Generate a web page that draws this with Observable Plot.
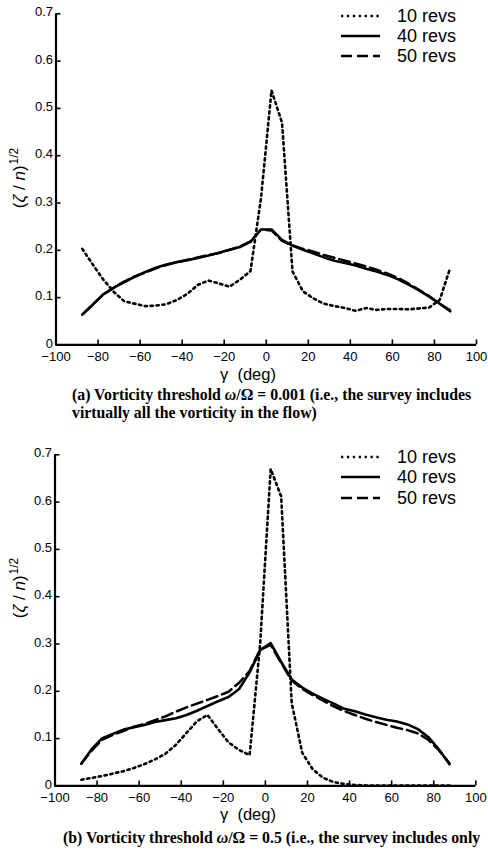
<!DOCTYPE html>
<html>
<head>
<meta charset="utf-8">
<script src="https://cdn.jsdelivr.net/npm/d3@7"></script>
<script src="https://cdn.jsdelivr.net/npm/@observablehq/plot@0.6"></script>
<style>
  body { margin: 0; background: #fff; }
  #page { position: relative; width: 488px; height: 850px; overflow: hidden;
          font-family: "Liberation Sans", Arial, sans-serif; color: #000; }
  .panel { position: absolute; left: 0; }
  .ylab { position: absolute; font-size: 17px; white-space: nowrap;
          transform: translate(-50%, -50%) rotate(-90deg); }
  .ylab sup { font-size: 12px; vertical-align: 7px; margin-left: 1px; }
  .xlab { position: absolute; font-size: 16.5px; white-space: nowrap; transform: translateY(-50%); }
  .legend { position: absolute; left: 341px; }
  .legend .row { position: absolute; left: 0; height: 20px; white-space: nowrap; }
  .legend svg { position: absolute; left: 0; top: 0; }
  .legend span { position: absolute; left: 56px; top: 0; line-height: 20px; font-size: 18px; }
  .cap { position: absolute; white-space: nowrap; font-family: "Liberation Serif", "Times New Roman", serif;
         font-weight: bold; font-size: 15.8px; line-height: 18px; transform: translateY(-50%); }
</style>
</head>
<body>
<div id="page"></div>
<script>
// Angular position γ (deg), bin centres every 5°
const gamma = [-87.5, -82.5, -77.5, -72.5, -67.5, -62.5, -57.5, -52.5, -47.5, -42.5,
               -37.5, -32.5, -27.5, -22.5, -17.5, -12.5, -7.5, -2.5, 2.5, 7.5,
               12.5, 17.5, 22.5, 27.5, 32.5, 37.5, 42.5, 47.5, 52.5, 57.5,
               62.5, 67.5, 72.5, 77.5, 82.5, 87.5];

// (a) threshold ω/Ω = 0.001
const a10 = [0.203, 0.170, 0.138, 0.112, 0.092, 0.087, 0.082, 0.083, 0.086, 0.095,
             0.108, 0.127, 0.136, 0.130, 0.123, 0.138, 0.156, 0.310, 0.538, 0.470,
             0.155, 0.113, 0.098, 0.087, 0.082, 0.078, 0.072, 0.078, 0.074, 0.076,
             0.076, 0.075, 0.077, 0.079, 0.095, 0.163];
const a40 = [0.064, 0.085, 0.107, 0.121, 0.133, 0.144, 0.154, 0.163, 0.170, 0.175,
             0.179, 0.184, 0.189, 0.195, 0.201, 0.207, 0.218, 0.244, 0.244, 0.222,
             0.210, 0.201, 0.193, 0.185, 0.178, 0.173, 0.168, 0.161, 0.155, 0.148,
             0.139, 0.128, 0.116, 0.102, 0.087, 0.071];
const a50 = [0.064, 0.086, 0.106, 0.121, 0.134, 0.145, 0.153, 0.162, 0.169, 0.175,
             0.180, 0.185, 0.190, 0.194, 0.201, 0.208, 0.219, 0.244, 0.242, 0.220,
             0.210, 0.203, 0.197, 0.190, 0.184, 0.178, 0.172, 0.166, 0.159, 0.151,
             0.142, 0.130, 0.117, 0.103, 0.087, 0.073];

// (b) threshold ω/Ω = 0.5
const b10 = [0.013, 0.017, 0.021, 0.026, 0.031, 0.038, 0.046, 0.056, 0.068, 0.087,
             0.112, 0.137, 0.150, 0.120, 0.092, 0.076, 0.065, 0.300, 0.670, 0.612,
             0.175, 0.070, 0.035, 0.017, 0.008, 0.004, 0.002, 0.001, 0.001, 0.001,
             0.001, 0.001, 0.001, 0.001, 0.001, 0.001];
const b40 = [0.047, 0.078, 0.101, 0.110, 0.119, 0.124, 0.129, 0.135, 0.139, 0.143,
             0.150, 0.159, 0.169, 0.179, 0.188, 0.205, 0.240, 0.287, 0.302, 0.262,
             0.225, 0.208, 0.195, 0.184, 0.174, 0.163, 0.158, 0.151, 0.145, 0.140,
             0.136, 0.130, 0.120, 0.103, 0.077, 0.046];
const b50 = [0.047, 0.075, 0.098, 0.108, 0.116, 0.125, 0.131, 0.139, 0.147, 0.157,
             0.166, 0.174, 0.182, 0.190, 0.199, 0.218, 0.243, 0.288, 0.298, 0.260,
             0.223, 0.205, 0.192, 0.180, 0.168, 0.158, 0.150, 0.142, 0.135, 0.129,
             0.123, 0.118, 0.111, 0.097, 0.075, 0.048];

const seriesNames = ["10 revs", "40 revs", "50 revs"];
const xTicks = [-100, -80, -60, -40, -20, 0, 20, 40, 60, 80, 100];
const yTicks = [0, 0.1, 0.2, 0.3, 0.4, 0.5, 0.6, 0.7];

// stroke styles per series: dotted, solid, dashed
const styles = [
  {strokeWidth: 2.6, strokeDasharray: "2.3,3.6"},
  {strokeWidth: 2.6},
  {strokeWidth: 2.5, strokeDasharray: "11,5"}
];

const yFormat = d => (d === 0 ? "0" : d.toFixed(1));

const page = document.getElementById("page");

function drawPanel({top, marginLeft, marginRight, series, yLabelY, xLabelY, legendTop}) {
  const rows = s => gamma.map((g, i) => ({g, v: s[i]}));
  const plot = Plot.plot({
    width: 488,
    height: 390,
    marginTop: 13.3,
    marginBottom: 45.6,
    marginLeft,
    marginRight,
    style: {fontFamily: "'Liberation Sans', Arial, sans-serif", fontSize: "13px", color: "#000", background: "transparent", overflow: "visible"},
    x: {domain: [-100, 100]},
    y: {domain: [0, 0.7]},
    marks: [
      Plot.axisX({ticks: xTicks, tickSize: -5, tickPadding: 12, strokeWidth: 1.6, label: null}),
      // inward tick marks on the y axis, then their labels nudged up slightly
      Plot.axisY({ticks: yTicks, tickSize: -5, strokeWidth: 1.6, tickFormat: () => "", label: null}),
      Plot.axisY({ticks: yTicks, tickSize: 0, tickPadding: 3, tickFormat: yFormat, dy: -1.5, label: null}),
      Plot.ruleY([0], {strokeWidth: 2.2}),
      Plot.ruleX([-100], {strokeWidth: 2.2}),
      ...series.map((s, k) => Plot.line(rows(s), {x: "g", y: "v", stroke: "#000", strokeLinejoin: "round", ...styles[k]}))
    ]
  });
  plot.classList.add("panel");
  plot.style.top = top + "px";
  page.appendChild(plot);

  const yl = document.createElement("div");
  yl.className = "ylab";
  yl.style.left = "18px";
  yl.style.top = yLabelY + "px";
  yl.innerHTML = "(<i>ζ</i> / <i>n</i>)<sup>1/2</sup>";
  page.appendChild(yl);

  const xl = document.createElement("div");
  xl.className = "xlab";
  xl.style.left = "220px";
  xl.style.top = xLabelY + "px";
  xl.innerHTML = "γ&nbsp; (deg)";
  page.appendChild(xl);

  const leg = document.createElement("div");
  leg.className = "legend";
  leg.style.top = legendTop + "px";
  seriesNames.forEach((name, k) => {
    const row = document.createElement("div");
    row.className = "row";
    row.style.top = (k * 20.3) + "px";
    const st = styles[k];
    row.innerHTML = `<svg width="40" height="20"><line x1="0" x2="39" y1="10" y2="10" stroke="#000" stroke-width="${st.strokeWidth}"${st.strokeDasharray ? ` stroke-dasharray="${st.strokeDasharray}"` : ""}/></svg><span>${name}</span>`;
    leg.appendChild(row);
  });
  page.appendChild(leg);
}

drawPanel({top: 0, marginLeft: 55.5, marginRight: 12, series: [a10, a40, a50],
           yLabelY: 178, xLabelY: 374, legendTop: 5.5});
drawPanel({top: 441, marginLeft: 54.5, marginRight: 12.7, series: [b10, b40, b50],
           yLabelY: 588, xLabelY: 814, legendTop: 447});

// captions
const caps = [
  {left: 72, y: 395, html: "(a) Vorticity threshold <i>ω</i>/Ω = 0.001 (i.e., the survey includes"},
  {left: 72, y: 413, html: "virtually all the vorticity in the flow)"},
  {left: 63, y: 838, html: "(b) Vorticity threshold <i>ω</i>/Ω = 0.5 (i.e., the survey includes only"}
];
caps.forEach(c => {
  const d = document.createElement("div");
  d.className = "cap";
  d.style.left = c.left + "px";
  d.style.top = c.y + "px";
  d.innerHTML = c.html;
  page.appendChild(d);
});
</script>
</body>
</html>
